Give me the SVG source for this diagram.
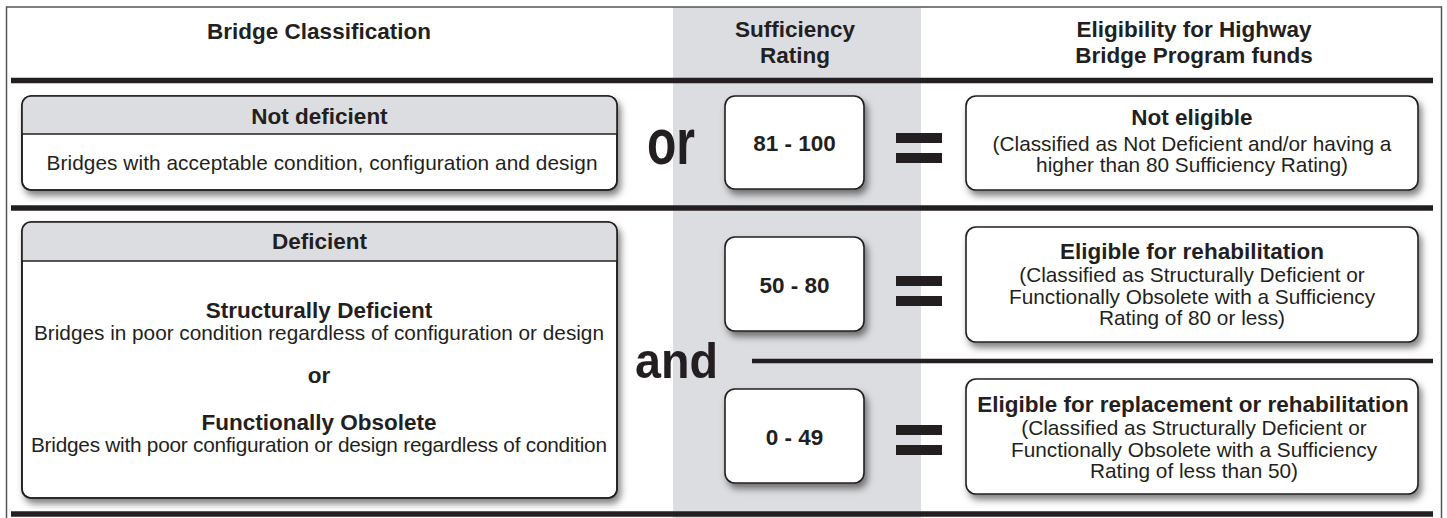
<svg xmlns="http://www.w3.org/2000/svg" width="1447" height="518" viewBox="0 0 1447 518">
<style>
text{font-family:"Liberation Sans",Arial,Helvetica,sans-serif;fill:#231f20;text-anchor:middle}
.b{font-weight:bold;font-size:22.5px}
.r{font-size:20.8px}
.box{fill:#fff;stroke:#231f20;stroke-width:1.6}
.boxo{fill:none;stroke:#231f20;stroke-width:1.6}
.hdr{fill:#dcdde0}
.rule{stroke:#231f20;stroke-width:5.5}
.eq{fill:#231f20}
</style>
<defs>
<filter id="sh" x="-10%" y="-15%" width="125%" height="140%">
<feDropShadow dx="3" dy="5" stdDeviation="3.5" flood-color="#000" flood-opacity="0.5"/>
</filter>
</defs>
<rect x="0" y="0" width="1447" height="518" fill="#fff"/>
<rect x="673" y="7" width="248" height="511" fill="#dcdde0"/>
<rect x="6.5" y="7" width="1435" height="520" fill="none" stroke="#555" stroke-width="1.5"/>

<g id="headers">
<text class="b" x="319" y="39">Bridge Classification</text>
<text class="b" x="795" y="37">Sufficiency</text>
<text class="b" x="795" y="63">Rating</text>
<text class="b" x="1194" y="37">Eligibility for Highway</text>
<text class="b" x="1194" y="63">Bridge Program funds</text>
</g>

<g id="connectors">
<line class="rule" x1="11" y1="80.5" x2="1433" y2="80.5"/>
<line class="rule" x1="11" y1="208" x2="1433" y2="208"/>
<line class="rule" x1="11" y1="514" x2="1433" y2="514"/>
<line x1="752" y1="361" x2="1433" y2="361" stroke="#231f20" stroke-width="4.5"/>
</g>

<g id="not-deficient">
<rect class="box" x="22" y="96" width="595" height="94" rx="9" filter="url(#sh)"/>
<path class="hdr" d="M22 134 V105 A9 9 0 0 1 31 96 H608 A9 9 0 0 1 617 105 V134 Z"/>
<line x1="22" y1="134" x2="617" y2="134" stroke="#231f20" stroke-width="1.6"/>
<rect class="boxo" x="22" y="96" width="595" height="94" rx="9"/>
<text class="b" x="319.5" y="124">Not deficient</text>
<text class="r" x="322" y="170" textLength="551">Bridges with acceptable condition, configuration and design</text>
</g>

<g id="deficient">
<rect class="box" x="22" y="222" width="595" height="276" rx="9" filter="url(#sh)"/>
<path class="hdr" d="M22 261 V231 A9 9 0 0 1 31 222 H608 A9 9 0 0 1 617 231 V261 Z"/>
<line x1="22" y1="261" x2="617" y2="261" stroke="#231f20" stroke-width="1.6"/>
<rect class="boxo" x="22" y="222" width="595" height="276" rx="9"/>
<text class="b" x="319.5" y="249">Deficient</text>
<text class="b" x="319" y="318">Structurally Deficient</text>
<text class="r" x="319" y="340" textLength="570">Bridges in poor condition regardless of configuration or design</text>
<text class="b" x="319" y="383">or</text>
<text class="b" x="319" y="430">Functionally Obsolete</text>
<text class="r" x="319" y="452" textLength="576">Bridges with poor configuration or design regardless of condition</text>
</g>

<g id="op-or">
<text x="671" y="164" font-weight="bold" font-size="64" textLength="48" lengthAdjust="spacingAndGlyphs">or</text>
</g>
<g id="op-and">
<text x="676.5" y="378" font-weight="bold" font-size="50" textLength="83" lengthAdjust="spacingAndGlyphs">and</text>
</g>

<g id="rating-81-100">
<rect class="box" x="725" y="96" width="139" height="93" rx="10" filter="url(#sh)"/>
<text class="b" x="794.5" y="151">81 - 100</text>
</g>
<g id="rating-50-80">
<rect class="box" x="725" y="237" width="139" height="94" rx="10" filter="url(#sh)"/>
<text class="b" x="794.5" y="293">50 - 80</text>
</g>
<g id="rating-0-49">
<rect class="box" x="725" y="389" width="139" height="94" rx="10" filter="url(#sh)"/>
<text class="b" x="794.5" y="445">0 - 49</text>
</g>

<g id="equals-1">
<rect class="eq" x="896" y="133" width="46" height="10"/>
<rect class="eq" x="896" y="153" width="46" height="10"/>
</g>
<g id="equals-2">
<rect class="eq" x="896" y="276" width="46" height="10"/>
<rect class="eq" x="896" y="296" width="46" height="10"/>
</g>
<g id="equals-3">
<rect class="eq" x="896" y="425" width="46" height="10"/>
<rect class="eq" x="896" y="445" width="46" height="10"/>
</g>

<g id="not-eligible">
<rect class="box" x="966" y="96" width="452" height="94" rx="10" filter="url(#sh)"/>
<text class="b" x="1192" y="125">Not eligible</text>
<text class="r" x="1192" y="151">(Classified as Not Deficient and/or having a</text>
<text class="r" x="1192" y="172">higher than 80 Sufficiency Rating)</text>
</g>
<g id="eligible-rehab">
<rect class="box" x="966" y="227" width="452" height="115" rx="10" filter="url(#sh)"/>
<text class="b" x="1192" y="259">Eligible for rehabilitation</text>
<text class="r" x="1192" y="282">(Classified as Structurally Deficient or</text>
<text class="r" x="1192" y="304">Functionally Obsolete with a Sufficiency</text>
<text class="r" x="1192" y="325">Rating of 80 or less)</text>
</g>
<g id="eligible-replace">
<rect class="box" x="966" y="379" width="452" height="115" rx="10" filter="url(#sh)"/>
<text class="b" x="1193" y="412">Eligible for replacement or rehabilitation</text>
<text class="r" x="1194" y="435">(Classified as Structurally Deficient or</text>
<text class="r" x="1194" y="457">Functionally Obsolete with a Sufficiency</text>
<text class="r" x="1194" y="478">Rating of less than 50)</text>
</g>
</svg>
